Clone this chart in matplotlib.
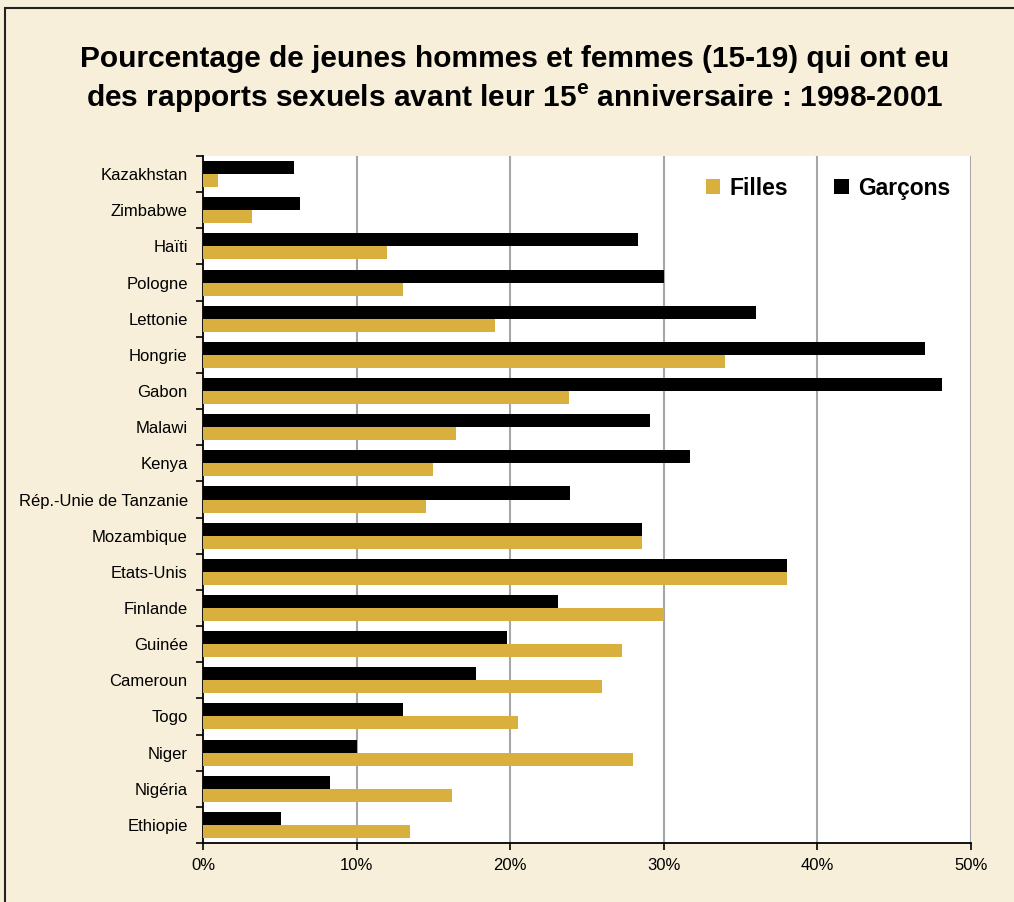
import matplotlib
matplotlib.use("Agg")
import matplotlib.pyplot as plt
from matplotlib import font_manager as fm
from matplotlib.patches import Rectangle
import numpy as np

countries = ["Kazakhstan", "Zimbabwe", "Haïti", "Pologne", "Lettonie", "Hongrie", "Gabon",
             "Malawi", "Kenya", "Rép.-Unie de Tanzanie", "Mozambique", "Etats-Unis",
             "Finlande", "Guinée", "Cameroun", "Togo", "Niger", "Nigéria", "Ethiopie"]
garcons = [5.9, 6.3, 28.3, 30.0, 36.0, 47.0, 48.1, 29.1, 31.7, 23.9, 28.6, 38.0,
           23.1, 19.8, 17.8, 13.0, 10.0, 8.3, 5.1]
filles = [1.0, 3.2, 12.0, 13.0, 19.0, 34.0, 23.8, 16.5, 15.0, 14.5, 28.6, 38.0,
          30.0, 27.3, 26.0, 20.5, 28.0, 16.2, 13.5]
xticks = [0, 10, 20, 30, 40, 50]
xticklabels = ["0%", "10%", "20%", "30%", "40%", "50%"]

names = {f.name for f in fm.fontManager.ttflist}
narrow = "Liberation Sans Narrow" if "Liberation Sans Narrow" in names else "Liberation Sans"
tick_size = 14 if narrow == "Liberation Sans Narrow" else 12

plt.rcParams["font.family"] = ["Liberation Sans", "DejaVu Sans"]
plt.rcParams["mathtext.fontset"] = "custom"
plt.rcParams["mathtext.rm"] = "Liberation Sans:bold"
plt.rcParams["mathtext.bf"] = "Liberation Sans:bold"

BG = "#F7EFD9"
GOLD = "#D9AF3D"

fig = plt.figure(figsize=(10.14, 9.02), dpi=100, facecolor=BG)
ax = fig.add_axes([203/1014, 1-843/902, (971-203)/1014, (843-156)/902])
ax.set_facecolor("white")

y = np.arange(len(countries))
h = 0.36
ax.barh(y - h/2, garcons, height=h, color="black", label="Garçons", zorder=3)
ax.barh(y + h/2, filles, height=h, color=GOLD, label="Filles", zorder=3)

ax.set_xlim(0, 50)
ax.set_ylim(len(countries) - 0.5, -0.5)
ax.set_xticks(xticks)
ax.set_xticklabels(xticklabels, fontfamily=narrow, fontsize=tick_size)
ax.set_yticks(y)
ax.set_yticklabels(countries, fontfamily=narrow, fontsize=tick_size)
ax.tick_params(axis="y", length=0, pad=11)
ax.set_yticks(np.arange(-0.5, len(countries)), minor=True)
ax.tick_params(axis="y", which="minor", length=5, width=1.2, direction="out")
ax.tick_params(axis="x", length=5, width=1.2, direction="out", pad=6)

for v in xticks[1:]:
    ax.axvline(v, color="#A6A6A6", lw=1.5, zorder=1)

for s in ["top", "right"]:
    ax.spines[s].set_visible(False)
for s in ["left", "bottom"]:
    ax.spines[s].set_linewidth(1.3)

handles, labels = ax.get_legend_handles_labels()
leg = ax.legend(handles[::-1], labels[::-1], loc="upper right", ncol=2, frameon=False,
                prop={"weight": "bold", "size": 16.5}, handlelength=0.65, handleheight=0.65,
                handletextpad=0.4, columnspacing=2.0, bbox_to_anchor=(1.0, 1.0),
                borderaxespad=0.5)

fig.text(0.508, 1-59/902, "Pourcentage de jeunes hommes et femmes (15-19) qui ont eu",
         ha="center", va="center", fontsize=21.5, fontweight="bold")
fig.text(0.508, 1-98/902, "des rapports sexuels avant leur 15$^{\\mathrm{e}}$ anniversaire : 1998-2001",
         ha="center", va="center", fontsize=21.5, fontweight="bold")

fig.patches.append(Rectangle((5/1014, -0.05), 1.1, 1 - 8/902 + 0.05, transform=fig.transFigure,
                             fill=False, edgecolor="#222222", lw=1.5))

fig.savefig("out.png", dpi=100, facecolor=BG)
